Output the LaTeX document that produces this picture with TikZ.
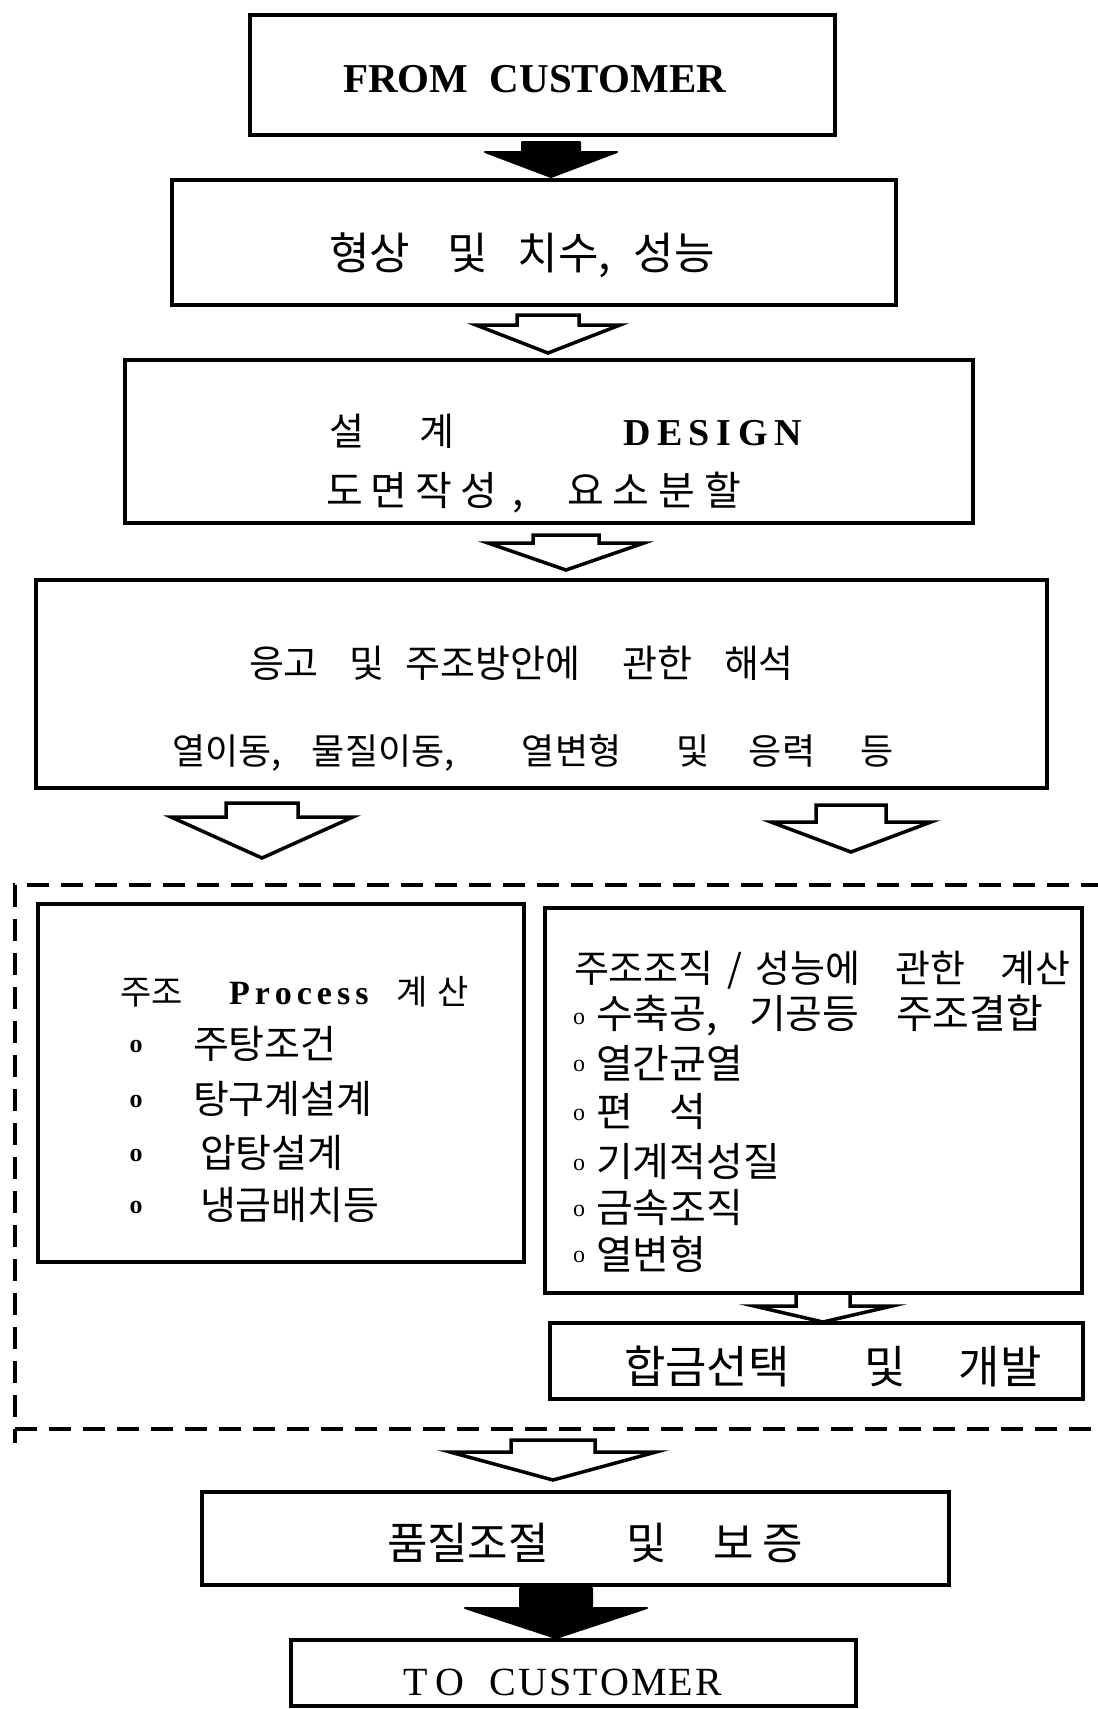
\documentclass[tikz,border=0pt]{standalone}
\usepackage{fontspec}
\setmainfont{Liberation Serif}
\newfontfamily\kr{Noto Sans CJK KR}
\usetikzlibrary{calc}
\newcommand\fsz[1]{\fontsize{#1}{#1}\selectfont}
\newcommand\tcell[2]{\makebox[#1pt][l]{#2}}
\newcommand\ltrsp[2]{\def\spgap{#1}\spacedaux#2\relax\unskip}
\def\spacedaux#1{\ifx#1\relax\else#1\hspace{\spgap}\expandafter\spacedaux\fi}
\tikzset{
  bx/.style={draw, rectangle, line width=3.5pt, inner sep=0pt, outer sep=0pt},
  grpbox/.style={draw, rectangle, line width=3.2pt, dash pattern=on 22pt off 12pt, inner sep=0pt, outer sep=0pt},
  grpline/.style={line width=3.2pt},
  hollowarr/.style={draw, fill=white, line width=3.5pt, line join=miter},
  solidarr/.style={draw, fill=black, line width=2pt, line join=round},
  txt/.style={inner sep=0pt, outer sep=0pt, anchor=west},
  bul/.style={inner sep=0pt, outer sep=0pt},
}
% style, from, to, x centre, shaft half width, head half width, gap below source, shaft length, gap above target
\newcommand\blockarrow[9]{%
  \path[#1] let \p1=(#2.south), \p2=(#3.north) in
    (#4pt-#5pt,\y1-#7pt) -- (#4pt+#5pt,\y1-#7pt) -- (#4pt+#5pt,\y1-#7pt-#8pt)
    -- (#4pt+#6pt,\y1-#7pt-#8pt) -- (#4pt,\y2+#9pt) -- (#4pt-#6pt,\y1-#7pt-#8pt)
    -- (#4pt-#5pt,\y1-#7pt-#8pt) -- cycle;}
\begin{document}
\begin{tikzpicture}[x=1pt,y=1pt]
\useasboundingbox (0,0) rectangle (1098,-1709);
\fill[white] (0,0) rectangle (1098,-1709);

% boxes
\node[bx, minimum width=585pt, minimum height=120pt] (b1) at (542.5,-75) {};
\node[bx, minimum width=724pt, minimum height=125pt] (b2) at (534,-242.5) {};
\node[bx, minimum width=848pt, minimum height=163pt] (b3) at (549,-441.5) {};
\node[bx, minimum width=1011pt, minimum height=208pt] (b4) at (541.5,-684) {};
\node[grpbox, minimum width=1105pt, minimum height=544pt] (grp) at (567.5,-1157) {};
\draw[grpline] (grp.south west) -- ++(0,-14);
\node[bx, minimum width=486pt, minimum height=358pt] (bl) at (281,-1083) {};
\node[bx, minimum width=537pt, minimum height=385pt] (br) at (813.5,-1100.5) {};
\node[bx, minimum width=533pt, minimum height=76pt] (ba) at (816.5,-1361) {};
\node[bx, minimum width=747pt, minimum height=93pt] (bq) at (575.5,-1538.5) {};
\node[bx, minimum width=565pt, minimum height=66pt] (bt) at (573.5,-1673) {};

% block arrows
\blockarrow{solidarr}{b1}{b2}{551}{29}{66}{7}{10}{3}
\blockarrow{hollowarr}{b2}{b3}{548}{31}{72}{10}{10}{7}
\blockarrow{hollowarr}{b3}{b4}{566}{33}{78}{12}{8}{10}
\blockarrow{hollowarr}{b4}{bl}{262}{36}{91}{15}{14}{46}
\blockarrow{hollowarr}{b4}{br}{851}{35}{80}{17}{17}{56}
\blockarrow{hollowarr}{br}{ba}{823}{27}{69}{0}{13}{1}
\blockarrow{hollowarr}{grp}{bq}{553}{42}{103}{11}{12}{12}
\blockarrow{solidarr}{bq}{bt}{556}{36}{91}{3}{20}{2}

% texts
\node[txt] (t1) at (343,-79) {\bfseries\fsz{41}\tcell{147}{FROM}CUSTOMER};
\node[txt] (t2) at (329,-255) {\kr\fsz{44}\tcell{119}{형상}\tcell{70}{및}\tcell{116}{치수,}성능};
\node[txt] (t3a) at (329,-431) {\kr\fsz{38}\tcell{91}{설}\tcell{203}{계}{\rmfamily\bfseries\fsz{38}\ltrsp{6.6pt}{DESIGN}}};
\node[txt] (t3b) at (326,-493) {\kr\fsz{40}\tcell{186}{\ltrsp{8pt}{도면작성}}\tcell{55}{,}\ltrsp{9pt}{요소분할}};
\node[txt] (t4a) at (249,-663) {\kr\fsz{38}\tcell{101}{응고}\tcell{56}{및}\tcell{217}{주조방안에}\tcell{101}{관한}해석};
\node[txt] (t4b) at (172,-753) {\kr\fsz{36}\tcell{140}{열이동,}\tcell{210}{물질이동,}\tcell{154}{열변형}\tcell{73}{및}\tcell{112}{응력}등};

% left box
\node[txt] (l0) at (120,-992) {\kr\fsz{34}\tcell{109}{주조}\tcell{167}{\rmfamily\bfseries\fsz{34}\ltrsp{5pt}{Process}}계\hspace{10pt}산};
\node[bul] (lo1) at (136,-1046) {\bfseries\fsz{26}o};
\node[bul] (lo2) at (136,-1101) {\bfseries\fsz{26}o};
\node[bul] (lo3) at (136,-1155) {\bfseries\fsz{26}o};
\node[bul] (lo4) at (136,-1207) {\bfseries\fsz{26}o};
\node[txt] (l1) at (193,-1044) {\kr\fsz{39}주탕조건};
\node[txt] (l2) at (193,-1099) {\kr\fsz{39}탕구계설계};
\node[txt] (l3) at (200,-1153) {\kr\fsz{39}압탕설계};
\node[txt] (l4) at (200,-1205) {\kr\fsz{39}냉금배치등};

% right box
\node[txt] (r0) at (574,-970) {\kr\fsz{38}\tcell{154}{주조조직}\tcell{28}{/}\tcell{140}{성능에}\tcell{105}{관한}계산};
\node[bul] (ro1) at (579,-1019) {\fsz{24}o};
\node[bul] (ro2) at (579,-1066) {\fsz{24}o};
\node[bul] (ro3) at (579,-1115) {\fsz{24}o};
\node[bul] (ro4) at (579,-1165) {\fsz{24}o};
\node[bul] (ro5) at (579,-1211) {\fsz{24}o};
\node[bul] (ro6) at (579,-1257) {\fsz{24}o};
\node[txt] (r1) at (596,-1016) {\kr\fsz{40}\tcell{153}{수축공,}\tcell{147}{기공등}주조결합};
\node[txt] (r2) at (596,-1063) {\kr\fsz{40}열간균열};
\node[txt] (r3) at (596,-1112) {\kr\fsz{40}\tcell{73}{편}석};
\node[txt] (r4) at (596,-1162) {\kr\fsz{40}기계적성질};
\node[txt] (r5) at (596,-1208) {\kr\fsz{40}금속조직};
\node[txt] (r6) at (596,-1254) {\kr\fsz{40}열변형};

% lower boxes
\node[txt] (ta) at (624,-1366) {\kr\fsz{45}\tcell{241}{합금선택}\tcell{94}{및}개발};
\node[txt] (tq) at (387,-1543) {\kr\fsz{44}\tcell{240}{품질조절}\tcell{87}{및}보\hspace{8pt}증};
\node[txt] (tt) at (403,-1682) {\fsz{40}\tcell{87}{\ltrsp{8pt}{TO}}\ltrsp{2pt}{CUSTOMER}};
\end{tikzpicture}
\end{document}
